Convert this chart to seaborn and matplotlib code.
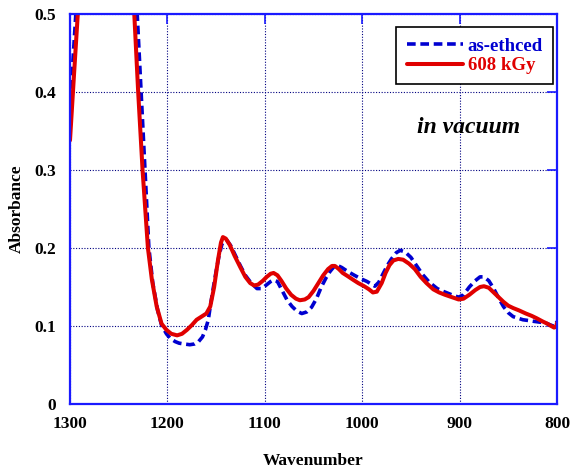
"""FTIR absorbance spectra: as-etched vs 608 kGy, in vacuum."""

import matplotlib

matplotlib.use("Agg")
import matplotlib.pyplot as plt
import pandas as pd
import seaborn as sns

# wavenumber / absorbance; segment splits the off-scale part
red_wn = [1300, 1296, 1292, 1289,
          1237, 1234, 1230, 1225.5, 1220, 1216, 1211, 1206, 1201, 1196, 1190,
          1185, 1180, 1175, 1170, 1165, 1160, 1156, 1152, 1148, 1145, 1143,
          1140, 1136, 1131, 1125, 1120, 1115, 1111, 1107, 1102, 1098, 1094,
          1091, 1087, 1083, 1078, 1073, 1068, 1064, 1059, 1055, 1050, 1045,
          1040, 1035, 1031, 1028, 1024, 1020, 1015, 1009, 1004, 998, 993, 989,
          985, 980, 976, 972, 968, 963, 958, 952, 946, 940, 934, 927, 921,
          915, 908, 901, 896, 890, 884, 879, 875, 870, 865, 860, 855, 850,
          845, 839, 832, 826, 821, 815, 810, 806, 803, 801, 800]
red_abs = [0.338, 0.42, 0.50, 0.56,
           0.56, 0.50, 0.40, 0.30, 0.20, 0.160, 0.125, 0.103, 0.095, 0.090,
           0.088, 0.090, 0.095, 0.101, 0.108, 0.112, 0.116, 0.125, 0.150,
           0.185, 0.207, 0.214, 0.212, 0.204, 0.190, 0.175, 0.163, 0.155,
           0.152, 0.153, 0.158, 0.163, 0.167, 0.168, 0.165, 0.158, 0.148,
           0.140, 0.135, 0.133, 0.134, 0.137, 0.145, 0.155, 0.165, 0.173,
           0.177, 0.177, 0.173, 0.168, 0.164, 0.159, 0.155, 0.151, 0.147,
           0.143, 0.144, 0.155, 0.168, 0.178, 0.184, 0.186, 0.185, 0.180,
           0.173, 0.163, 0.155, 0.147, 0.143, 0.140, 0.137, 0.134, 0.135,
           0.140, 0.146, 0.150, 0.151, 0.149, 0.143, 0.137, 0.131, 0.126,
           0.123, 0.120, 0.116, 0.113, 0.110, 0.106, 0.103, 0.100, 0.098,
           0.099, 0.104]
red_seg = [0] * 4 + [1] * (len(red_wn) - 4)

blue_wn = [1300, 1297, 1294, 1291,
           1234, 1231, 1227, 1223, 1219, 1215, 1210, 1206, 1201, 1197, 1192,
           1188, 1183, 1177, 1172, 1168, 1164, 1161, 1158, 1156, 1153, 1150,
           1147, 1144, 1141, 1139, 1135, 1130, 1125, 1120, 1114, 1108, 1103,
           1098, 1094, 1091, 1087, 1082, 1077, 1072, 1067, 1062, 1057, 1052,
           1047, 1042, 1037, 1033, 1029, 1026, 1021, 1015, 1008, 1002, 995,
           991, 987, 983, 979, 974, 970, 965, 961, 956, 950, 944, 938, 931,
           923, 918, 912, 906, 901, 896, 890, 884, 879, 875, 870, 865, 860,
           855, 850, 845, 840, 835, 829, 824, 818, 812, 808, 804, 802, 800]
blue_abs = [0.37, 0.44, 0.50, 0.56,
            0.56, 0.50, 0.40, 0.30, 0.20, 0.155, 0.120, 0.101, 0.090, 0.084,
            0.080, 0.078, 0.077, 0.076, 0.077, 0.080, 0.086, 0.095, 0.108,
            0.125, 0.148, 0.170, 0.190, 0.205, 0.210, 0.210, 0.203, 0.190,
            0.177, 0.165, 0.155, 0.148, 0.148, 0.153, 0.157, 0.159, 0.157,
            0.145, 0.133, 0.125, 0.119, 0.116, 0.118, 0.124, 0.135, 0.150,
            0.162, 0.170, 0.176, 0.178, 0.175, 0.170, 0.165, 0.161, 0.157,
            0.154, 0.151, 0.156, 0.166, 0.178, 0.186, 0.194, 0.197, 0.195,
            0.188, 0.177, 0.166, 0.156, 0.148, 0.145, 0.142, 0.139, 0.137,
            0.140, 0.150, 0.158, 0.163, 0.163, 0.158, 0.148, 0.136, 0.125,
            0.117, 0.112, 0.110, 0.108, 0.107, 0.106, 0.105, 0.104, 0.102,
            0.100, 0.100, 0.106]
blue_seg = [0] * 4 + [1] * (len(blue_wn) - 4)

x_ticks = [1300, 1200, 1100, 1000, 900, 800]
y_ticks = [0, 0.1, 0.2, 0.3, 0.4, 0.5]
y_tick_labels = ["0", "0.1", "0.2", "0.3", "0.4", "0.5"]

BLUE = "#0000d0"
RED = "#e00000"
AXIS_BLUE = "#1a1aff"


def main() -> None:
    sns.set_style("white")
    plt.rcParams["font.family"] = ["Liberation Serif", "DejaVu Serif"]
    plt.rcParams["font.weight"] = "bold"
    plt.rcParams["text.color"] = "black"
    plt.rcParams["axes.labelcolor"] = "black"

    blue_df = pd.DataFrame({"wn": blue_wn, "abs": blue_abs, "seg": blue_seg})
    red_df = pd.DataFrame({"wn": red_wn, "abs": red_abs, "seg": red_seg})

    fig = plt.figure(figsize=(5.71, 4.72), dpi=100)
    ax = fig.add_axes([70 / 571, 1 - 404 / 472, 487 / 571, 390 / 472])

    ax.grid(True, color="#000080", linestyle=(0, (1, 1.5)), linewidth=0.8)
    ax.set_axisbelow(True)

    sns.lineplot(data=blue_df, x="wn", y="abs", units="seg", estimator=None,
                 sort=False, color=BLUE, linewidth=2.6, ax=ax)
    for ln in ax.lines:
        ln.set_linestyle((0, (2.4, 1.3)))
    n_blue = len(ax.lines)
    sns.lineplot(data=red_df, x="wn", y="abs", units="seg", estimator=None,
                 sort=False, color=RED, linewidth=2.9, ax=ax)
    for ln in ax.lines:
        ln.set_solid_joinstyle("round")
        ln.set_dash_joinstyle("round")

    ax.set_xlim(1300, 800)
    ax.set_ylim(0, 0.5)
    ax.set_xticks(x_ticks)
    ax.set_xticklabels([str(t) for t in x_ticks])
    ax.set_yticks(y_ticks)
    ax.set_yticklabels(y_tick_labels)
    ax.tick_params(direction="in", length=7, width=1.2, color=AXIS_BLUE,
                   labelcolor="black", top=True, right=True, labelsize=12.5)
    ax.tick_params(axis="x", pad=9)
    ax.tick_params(axis="y", pad=10)
    for s in ax.spines.values():
        s.set_color(AXIS_BLUE)
        s.set_linewidth(1.6)

    ax.set_xlabel("Wavenumber", fontsize=12.5, fontweight="bold", labelpad=15)
    ax.set_ylabel("Absorbance", fontsize=12.5, fontweight="bold", labelpad=7)

    handles = [ax.lines[0], ax.lines[n_blue]]
    leg = ax.legend(handles, ["as-ethced", "608 kGy"], loc="upper right",
                    bbox_to_anchor=(0.992, 0.966), fancybox=False,
                    framealpha=1, edgecolor="black", fontsize=13.5,
                    handlelength=3.0, handletextpad=0.25, borderpad=0.55,
                    labelspacing=0.12, borderaxespad=0.0)
    leg.get_frame().set_linewidth(1.2)
    for txt, col in zip(leg.get_texts(), [BLUE, RED]):
        txt.set_color(col)
        txt.set_fontweight("bold")

    ax.text(0.818, 0.708, "in vacuum", transform=ax.transAxes, fontsize=17,
            fontweight="bold", fontstyle="italic", ha="center", va="center",
            color="black")

    fig.savefig("out.png", dpi=100)
    plt.close(fig)


if __name__ == "__main__":
    main()
